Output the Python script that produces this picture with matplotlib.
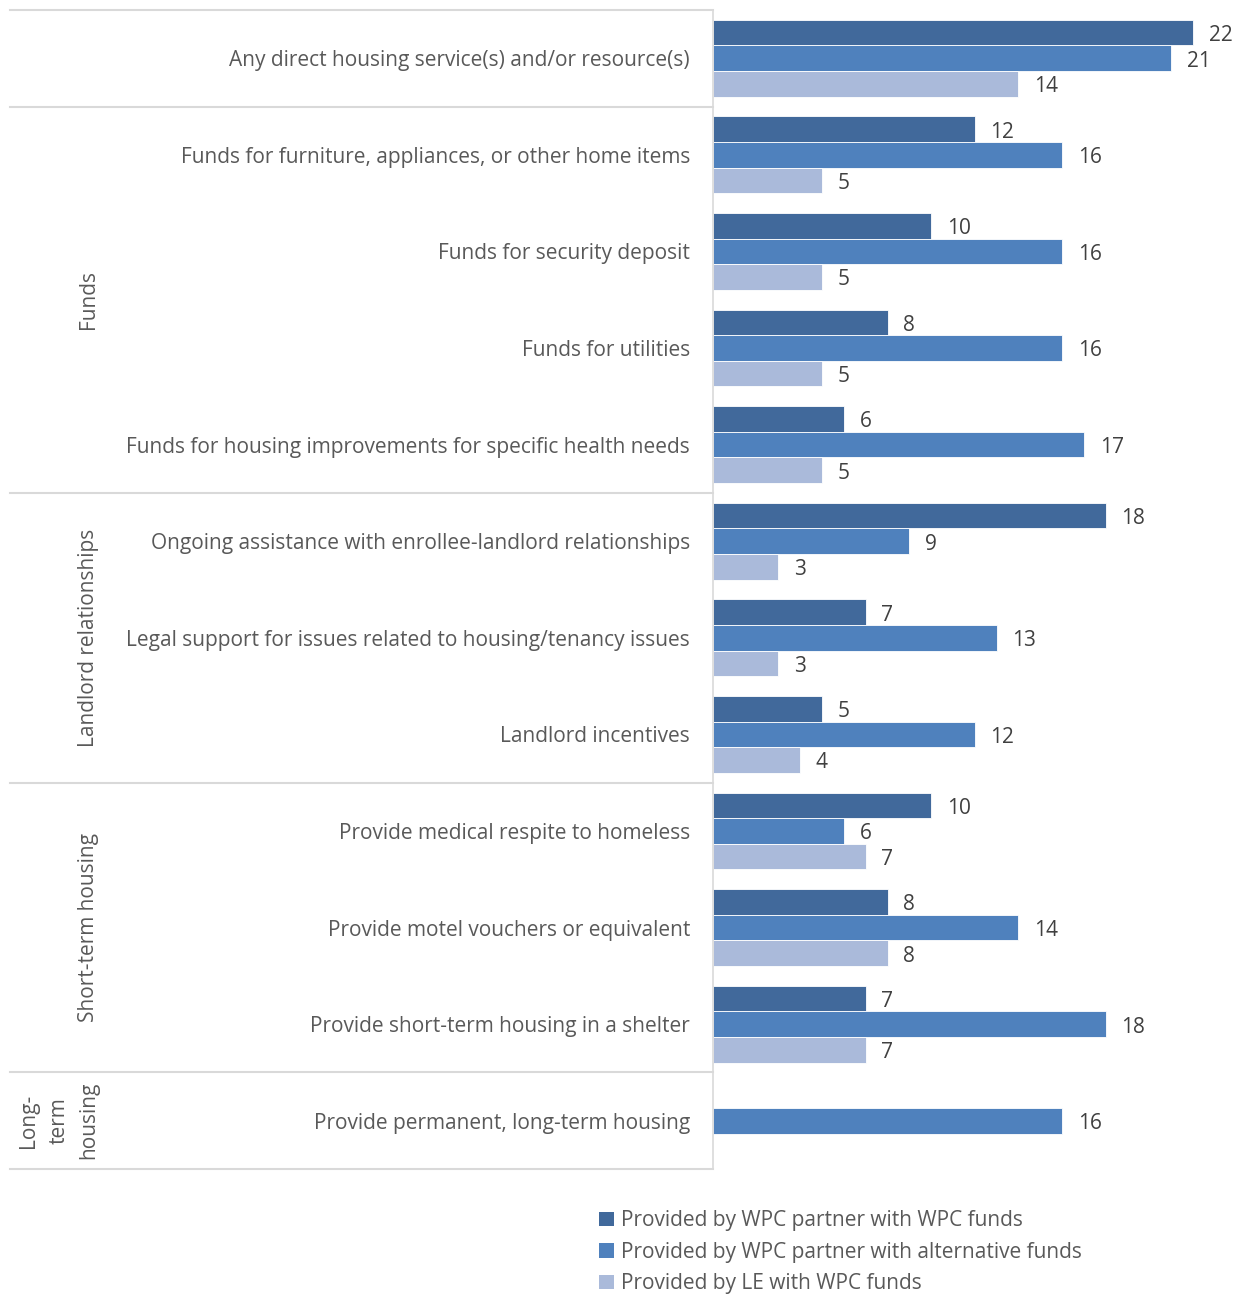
import matplotlib
matplotlib.use("Agg")
import matplotlib.pyplot as plt
from matplotlib.patches import Patch
import numpy as np

plt.rcParams['font.family'] = ['Open Sans', 'DejaVu Sans']

categories = [
    "Any direct housing service(s) and/or resource(s)",
    "Funds for furniture, appliances, or other home items",
    "Funds for security deposit",
    "Funds for utilities",
    "Funds for housing improvements for specific health needs",
    "Ongoing assistance with enrollee-landlord relationships",
    "Legal support for issues related to housing/tenancy issues",
    "Landlord incentives",
    "Provide medical respite to homeless",
    "Provide motel vouchers or equivalent",
    "Provide short-term housing in a shelter",
    "Provide permanent, long-term housing",
]
wpc_partner_wpc = [22, 12, 10, 8, 6, 18, 7, 5, 10, 8, 7, 0]
wpc_partner_alt = [21, 16, 16, 16, 17, 9, 13, 12, 6, 14, 18, 16]
le_wpc = [14, 5, 5, 5, 5, 3, 3, 4, 7, 8, 7, 0]
series_names = [
    "Provided by WPC partner with WPC funds",
    "Provided by WPC partner with alternative funds",
    "Provided by LE with WPC funds",
]
# group label, first index, last index
groups = [("Funds", 1, 4), ("Landlord relationships", 5, 7),
          ("Short-term housing", 8, 10), ("Long-\nterm\nhousing", 11, 11)]

colors = ["#41699B", "#4F81BD", "#AABADA"]
label_col = "#595959"
value_col = "#404040"
grid_col = "#D9D9D9"
fs = 15

W, H = 1240, 1294
fig = plt.figure(figsize=(W / 100, H / 100), dpi=100)
ax = fig.add_axes([713 / W, 1 - 1169 / H, 527 / W, 1159 / H])

y = np.arange(len(categories))
bh = 0.265
for k, vals in enumerate([wpc_partner_wpc, wpc_partner_alt, le_wpc]):
    pos = y + (k - 1) * bh
    bars = ax.barh(pos, vals, height=bh, color=colors[k], edgecolor="white", linewidth=0.6)
    for b, v in zip(bars, vals):
        if v > 0:
            ax.text(v + 0.72, b.get_y() + b.get_height() / 2 + 0.03, str(v), va="center", ha="left",
                    fontsize=fs, color=value_col)

ax.set_xlim(0, 527 / 21.82)
ax.set_ylim(len(categories) - 0.5, -0.5)
ax.set_xticks([])
ax.set_yticks(y)
ax.set_yticklabels(categories, fontsize=fs, color=label_col)
ax.tick_params(axis="y", length=0, pad=16.5)
for s in ["top", "right", "bottom"]:
    ax.spines[s].set_visible(False)
ax.spines["left"].set_color(grid_col)
ax.spines["left"].set_linewidth(1.2)

# divider lines in label area
tr = ax.get_yaxis_transform()
x0 = (10 - 713) / 527
for yy in [-0.5, 0.5, 4.5, 7.5, 10.5, 11.5]:
    ax.plot([x0, 0], [yy, yy], transform=tr, color=grid_col, lw=1.5, clip_on=False)

xg = (99 - 713) / 527
for name, a, b in groups:
    ax.text(xg, (a + b) / 2, name, transform=tr, rotation=90, ha="right", va="center",
            multialignment="center", fontsize=fs, color=label_col, linespacing=1.55)

handles = [Patch(facecolor=c, edgecolor="none") for c in colors]
fig.legend(handles, series_names, loc="upper left", bbox_to_anchor=(591 / W, 1 - 1202 / H),
           frameon=False, fontsize=fs, labelcolor=label_col, handlelength=0.7,
           handleheight=0.7, handletextpad=0.35, labelspacing=0.5, borderaxespad=0)

fig.savefig("out.png", dpi=100)
